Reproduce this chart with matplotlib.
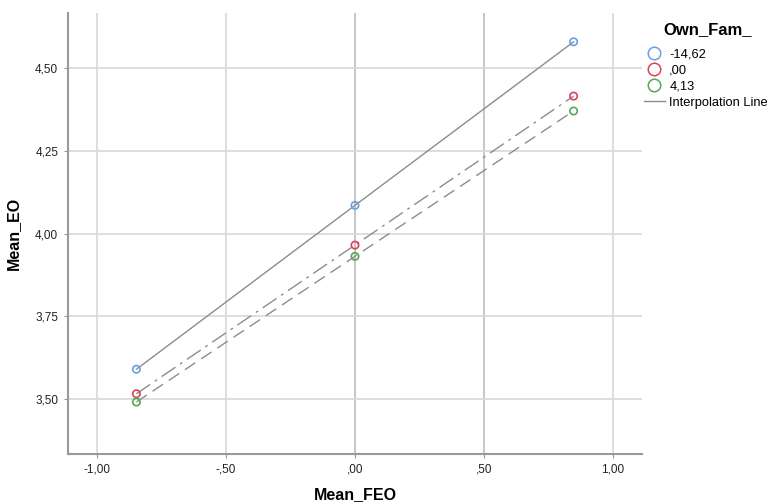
import matplotlib
matplotlib.use("Agg")
import matplotlib.pyplot as plt
from matplotlib.lines import Line2D

# Data
x_vals = [-0.847, 0.0, 0.847]
groups = ["-14,62", ",00", "4,13"]
blue_vals = [3.590, 4.085, 4.579]
red_vals = [3.516, 3.965, 4.415]
green_vals = [3.491, 3.931, 4.370]
x_ticks = [-1.0, -0.5, 0.0, 0.5, 1.0]
x_ticklabels = ["-1,00", "-,50", ",00", ",50", "1,00"]
y_ticks = [3.50, 3.75, 4.00, 4.25, 4.50]
y_ticklabels = ["3,50", "3,75", "4,00", "4,25", "4,50"]

colors = ["#6a9fe8", "#e0405e", "#55a955"]
styles = ["-", (0, (12, 4, 2, 4)), (0, (9, 5))]
series = [blue_vals, red_vals, green_vals]

plt.rcParams['font.family'] = ['Liberation Sans', 'DejaVu Sans']
fig = plt.figure(figsize=(7.71, 5.04), dpi=100)
ax = fig.add_axes([68/771, 50/504, (642-68)/771, (454-13)/504])

ax.set_xlim(-1.112, 1.112)
ax.set_ylim(3.334, 4.666)

for xv in x_ticks:
    c = "#bcbcbc" if xv in (0.0, 0.5) else "#d8d8d8"
    ax.axvline(xv, color=c, lw=1.2, zorder=0)
for yv in y_ticks:
    ax.axhline(yv, color="#d8d8d8", lw=1.2, zorder=0)

for vals, col, ls in zip(series, colors, styles):
    ax.plot(x_vals, vals, color="#8c8c8c", lw=1.0, linestyle=ls, zorder=2)
    ax.scatter(x_vals, vals, s=28, facecolors="none", edgecolors=col, linewidths=1.2, zorder=3)

ax.set_xticks(x_ticks)
ax.set_xticklabels(x_ticklabels)
ax.set_yticks(y_ticks)
ax.set_yticklabels(y_ticklabels)
ax.tick_params(axis='both', length=3, color="#999999", labelsize=8.5, labelcolor="#222222", pad=4)

for s in ["top", "right"]:
    ax.spines[s].set_visible(False)
for s in ["left", "bottom"]:
    ax.spines[s].set_color("#999999")
    ax.spines[s].set_linewidth(1.5)

ax.set_xlabel("Mean_FEO", fontsize=11.5, fontweight="bold", labelpad=8)
ax.set_ylabel("Mean_EO", fontsize=11.5, fontweight="bold", labelpad=10)

handles = [Line2D([], [], marker='o', linestyle='none', markerfacecolor='none',
                  markeredgecolor=c, markersize=9, markeredgewidth=1.1) for c in colors]
handles.append(Line2D([], [], color="#8c8c8c", lw=1.0))
labels = groups + ["Interpolation Line"]
fig.text(708/771, 1 - 30/504, "Own_Fam_", fontsize=12, fontweight="bold",
         ha="center", va="center")
leg = fig.legend(handles, labels, loc="upper left", bbox_to_anchor=(644/771, 1 - 48/504),
                 frameon=False, fontsize=9.3, handlelength=1.6,
                 handletextpad=0.35, labelspacing=0.32, borderaxespad=0, borderpad=0)

fig.savefig("out.png", dpi=100)
